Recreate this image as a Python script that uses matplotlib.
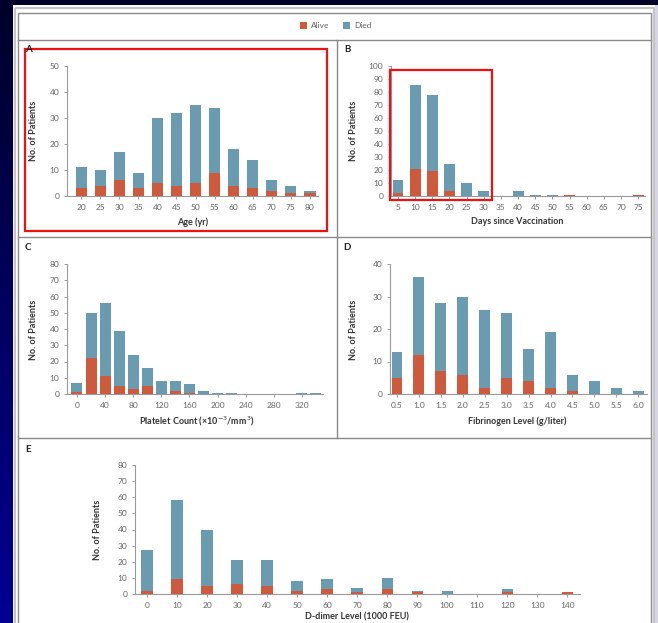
import matplotlib.pyplot as plt
import numpy as np
from matplotlib.patches import Rectangle

plt.rcParams['font.family'] = ['Lato', 'DejaVu Sans']

W, H = 658, 623
RED = '#cd5a3c'
BLUE = '#6b9bb0'
TICK_C = '#666666'
LABEL_C = '#333333'

# A: age
age = [20, 25, 30, 35, 40, 45, 50, 55, 60, 65, 70, 75, 80]
age_alive = [3, 4, 6, 3, 5, 4, 5, 9, 4, 3, 2, 1, 1]
age_died = [8, 6, 11, 6, 25, 28, 30, 25, 14, 11, 4, 3, 1]

# B: days since vaccination
days = [5, 10, 15, 20, 25, 30, 35, 40, 45, 50, 55, 60, 65, 70, 75]
days_alive = [2, 21, 19, 4, 0, 0, 0, 0, 0, 0, 1, 0, 0, 0, 1]
days_died = [10, 64, 59, 21, 10, 4, 0, 4, 1, 1, 0, 0, 0, 0, 0]

# C: platelet count
plt_bins = [0, 20, 40, 60, 80, 100, 120, 140, 160, 180, 200, 220, 240, 260, 280, 300, 320, 340]
plt_alive = [1, 22, 11, 5, 3, 5, 0, 2, 0.5, 0, 0, 0, 0, 0, 0, 0, 0, 0]
plt_died = [6, 28, 45, 34, 21, 11, 8, 6, 5.5, 2, 0.6, 0.6, 0, 0, 0, 0, 0.6, 0.6]
plt_ticks = [0, 40, 80, 120, 160, 200, 240, 280, 320]

# D: fibrinogen
fib = [0.5, 1.0, 1.5, 2.0, 2.5, 3.0, 3.5, 4.0, 4.5, 5.0, 5.5, 6.0]
fib_alive = [5, 12, 7, 6, 2, 5, 4, 2, 1, 0, 0, 0]
fib_died = [8, 24, 21, 24, 24, 20, 10, 17, 5, 4, 2, 1]

# E: d-dimer
ddim = [0, 10, 20, 30, 40, 50, 60, 70, 80, 90, 100, 110, 120, 130, 140]
ddim_alive = [2, 9, 5, 6, 5, 2, 3, 1, 3, 1, 0, 0, 1, 0, 1]
ddim_died = [25, 49, 35, 15, 16, 6, 6, 3, 7, 1, 2, 0, 2, 0, 0]

fig = plt.figure(figsize=(W / 100, H / 100), dpi=100)

# slide background + white page
bg = fig.add_axes([0, 0, 1, 1], zorder=0)
bg.set_xlim(0, W)
bg.set_ylim(H, 0)
bg.axis('off')
grad = np.linspace(0, 1, 200)[:, None, None]
navy = np.concatenate([np.zeros_like(grad), np.zeros_like(grad) + 0.0,
                       0.16 + 0.42 * grad], axis=2)
bg.imshow(navy, extent=(0, W, H, 0), aspect='auto')
bg.add_patch(Rectangle((13, 5), W - 13, H - 5, facecolor='white', edgecolor='none'))
bg.add_patch(Rectangle((14.5, 7.5), 639, 620, facecolor='none', edgecolor='#c4c4c4', lw=1.6))
bg.add_patch(Rectangle((18, 13), 633, 620, facecolor='none', edgecolor='#8a8a8a', lw=1.0))
bg.plot([18, 651], [40, 40], color='#8a8a8a', lw=1.0)
bg.plot([18, 651], [237, 237], color='#8a8a8a', lw=1.0)
bg.plot([18, 651], [438, 438], color='#8a8a8a', lw=1.0)
bg.plot([337, 337], [40, 438], color='#8a8a8a', lw=1.0)
bg.add_patch(Rectangle((655, 5), 3, H, facecolor='#d8d4e8', edgecolor='none'))


def px_axes(x0, y0, x1, y1):
    return fig.add_axes([x0 / W, 1 - y1 / H, (x1 - x0) / W, (y1 - y0) / H], zorder=2)


def panel(box, x, alive, died, width, xlim, ymax, ystep, xticks, xticklabels):
    ax = px_axes(*box)
    ax.bar(x, alive, width, color=RED, linewidth=0)
    ax.bar(x, died, width, bottom=alive, color=BLUE, linewidth=0)
    ax.set_xlim(*xlim)
    ax.set_ylim(0, ymax)
    ax.set_yticks(np.arange(0, ymax + 1, ystep))
    ax.set_xticks(xticks)
    ax.set_xticklabels(xticklabels)
    ax.patch.set_alpha(0)
    for s in ['top', 'right']:
        ax.spines[s].set_visible(False)
    for s in ['left', 'bottom']:
        ax.spines[s].set_color('#9a9a9a')
        ax.spines[s].set_linewidth(0.8)
    ax.tick_params(length=2.5, width=0.7, color='#9a9a9a', labelsize=6,
                   labelcolor=TICK_C, pad=3)
    return ax


panel((67, 66, 318, 196), age, age_alive, age_died, 2.9, (16.3, 82.1), 50, 10,
      age, [str(v) for v in age])
panel((391, 66, 645, 196), days, days_alive, days_died, 3.2, (2.96, 77.0), 100, 10,
      days, [str(v) for v in days])
panel((67, 264, 323, 394), plt_bins, plt_alive, plt_died, 15.6, (-14.2, 350), 80, 10,
      plt_ticks, [str(v) for v in plt_ticks])
panel((390, 264, 647, 394), fib, fib_alive, fib_died, 0.25, (0.34, 6.2), 40, 10,
      fib, ['%.1f' % v for v in fib])
panel((135, 465, 580, 594), ddim, ddim_alive, ddim_died, 3.7, (-4, 144.3), 80, 10,
      ddim, [str(v) for v in ddim])

# overlay: labels, legend, highlight boxes
ov = fig.add_axes([0, 0, 1, 1], zorder=5)
ov.set_xlim(0, W)
ov.set_ylim(H, 0)
ov.axis('off')
ov.patch.set_alpha(0)

for letter, (lx, ly) in zip('ABCDE', [(28, 50), (347, 50), (28, 248), (347, 248), (28, 450)]):
    ov.text(lx, ly, letter, fontsize=7, fontweight='bold', color='#222222',
            ha='center', va='center')

ylab = dict(fontsize=6.5, fontweight='bold', color=LABEL_C, rotation=90,
            ha='center', va='center')
for yx, yy in [(33, 131), (353, 131), (33, 330), (353, 330), (98, 530)]:
    ov.text(yx, yy, 'No. of Patients', **ylab)

xlab = dict(fontsize=6.5, fontweight='bold', color=LABEL_C, ha='center', va='center')
ov.text(193, 222, 'Age (yr)', **xlab)
ov.text(517, 222, 'Days since Vaccination', **xlab)
ov.text(197, 421, 'Platelet Count (\u00d710$^{-3}$/mm$^{3}$)', **xlab)
ov.text(517, 421, 'Fibrinogen Level (g/liter)', **xlab)
ov.text(357, 617, 'D-dimer Level (1000 FEU)', **xlab)

ov.add_patch(Rectangle((300, 22), 7, 7, facecolor=RED, edgecolor='none'))
ov.text(311, 25.5, 'Alive', fontsize=6, color=TICK_C, va='center')
ov.add_patch(Rectangle((343, 22), 7, 7, facecolor=BLUE, edgecolor='none'))
ov.text(354, 25.5, 'Died', fontsize=6, color=TICK_C, va='center')

ov.add_patch(Rectangle((25, 49), 302, 182, facecolor='none', edgecolor='#ee1111', lw=1.6))
ov.add_patch(Rectangle((390, 70), 102, 130, facecolor='none', edgecolor='#ee1111', lw=1.6))

fig.savefig('out.png', dpi=100)
